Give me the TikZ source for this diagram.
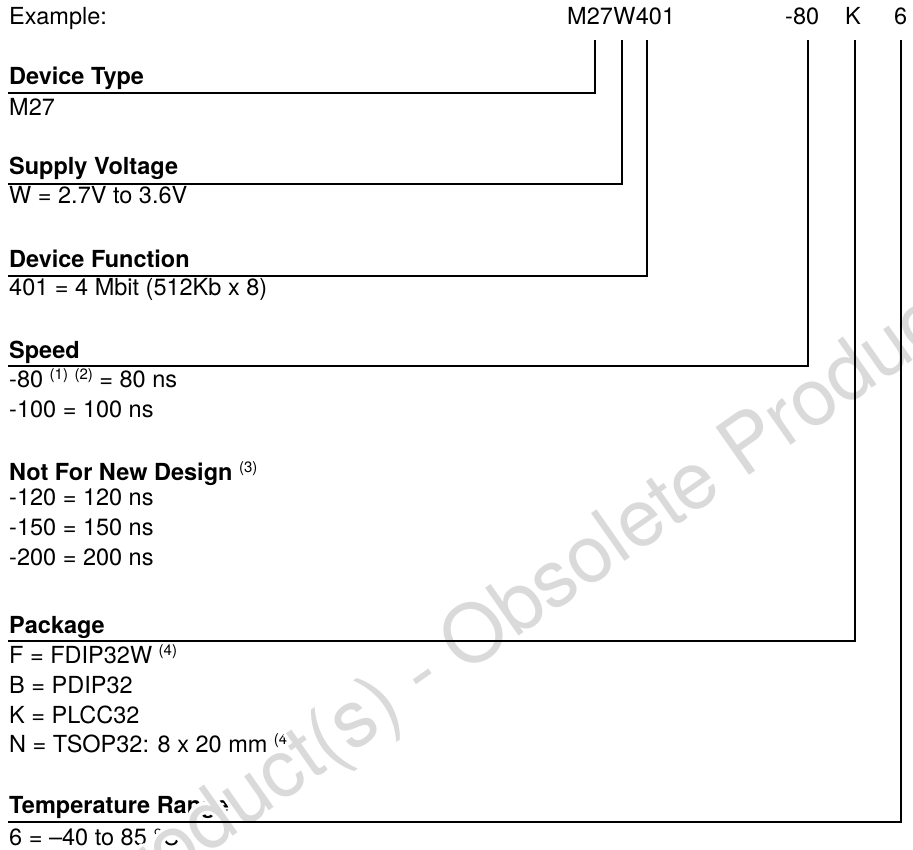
\documentclass[tikz,border=0pt]{standalone}
\usepackage{fontspec}
\setmainfont{TeX Gyre Heros}
\definecolor{markgray}{RGB}{218,218,218}
\newcommand{\fnote}[1]{\raisebox{8pt}{\mdseries\fontsize{15}{15}\selectfont(#1)}}

\begin{document}
\begin{tikzpicture}[x=1pt,y=-1pt,
  txt/.style={anchor=base west,inner sep=0pt,font=\fontsize{23.5}{28}\selectfont},
  head/.style={txt,font=\fontsize{23.5}{28}\selectfont\bfseries},
  rule/.style={line width=2pt},
  wmark/.style={anchor=base west,inner sep=0pt,rotate=35,font=\fontsize{80}{80}\selectfont}]

  \useasboundingbox (0,0) rectangle (913,850);

  % example code
  \node[txt] (ex) at (9,25) {Example:};
  \node[txt] (cM) at (567,25) {M27};
  \node[txt] (cW) at (cM.base east) {W};
  \node[txt] (c401) at (cW.base east) {401};
  \node[txt] (cSp) at (785,25) {-80};
  \node[txt] (cPk) at (845,25) {K};
  \node[txt] (cTr) at (894,25) {6};

  % fields
  \node[head] (hType) at (9,85) {Device Type};
  \node[txt] (vType) at (9,116) {M27};

  \node[head] (hVolt) at (9,175) {Supply Voltage};
  \node[txt] (vVolt) at (9,204) {W = 2.7V to 3.6V};

  \node[head] (hFunc) at (9,268) {Device Function};
  \node[txt] (vFunc) at (9,296) {401 = 4 Mbit (512Kb x 8)};

  \node[head] (hSpeed) at (9,358) {Speed};
  \node[txt] (vSpA) at (9,387) {-80 \fnote{1} \fnote{2} = 80 ns};
  \node[txt] (vSpB) at (9,417) {-100 = 100 ns};

  \node[head] (hNfnd) at (9,480) {Not For New Design \fnote{3}};
  \node[txt] (vNfA) at (9,505) {-120 = 120 ns};
  \node[txt] (vNfB) at (9,535) {-150 = 150 ns};
  \node[txt] (vNfC) at (9,565) {-200 = 200 ns};

  \node[head] (hPack) at (9,633) {Package};
  \node[txt] (vPkF) at (9,663) {F = FDIP32W \fnote{4}};
  \node[txt] (vPkB) at (9,693) {B = PDIP32};
  \node[txt] (vPkK) at (9,723) {K = PLCC32};
  \node[txt] (vPkN) at (9,752) {N = TSOP32: 8 x 20 mm \fnote{4}};

  \node[head] (hTemp) at (9,813) {Temperature Range};
  \node[txt] (vTemp) at (9,845) {6 = --40 to 85 °C};

  % watermark, white halo first
  \coordinate (wm) at (-175,1122);
  \foreach \a in {0,30,...,330}
    \node[wmark,text=white,shift={(\a:3pt)}] at (wm) {Obsolete Product(s) - Obsolete Product(s)};
  \node[wmark,text=markgray] (wmTxt) at (wm) {Obsolete Product(s) - Obsolete Product(s)};

  % connectors from code to field rules
  \coordinate (tM) at (595,40);   \coordinate (rType) at (8,93);
  \coordinate (tW) at (622,40);   \coordinate (rVolt) at (8,184);
  \coordinate (t401) at (647,40); \coordinate (rFunc) at (8,276);
  \coordinate (tSp) at (808,40);  \coordinate (rSpeed) at (8,366);
  \coordinate (tPk) at (855,40);  \coordinate (rPack) at (8,641);
  \coordinate (tTr) at (901,40);  \coordinate (rTemp) at (8,822);
  \draw[rule] (tM) |- (rType);
  \draw[rule] (tW) |- (rVolt);
  \draw[rule] (t401) |- (rFunc);
  \draw[rule] (tSp) |- (rSpeed);
  \draw[rule] (tPk) |- (rPack);
  \draw[rule] (tTr) |- (rTemp);

\end{tikzpicture}
\end{document}
